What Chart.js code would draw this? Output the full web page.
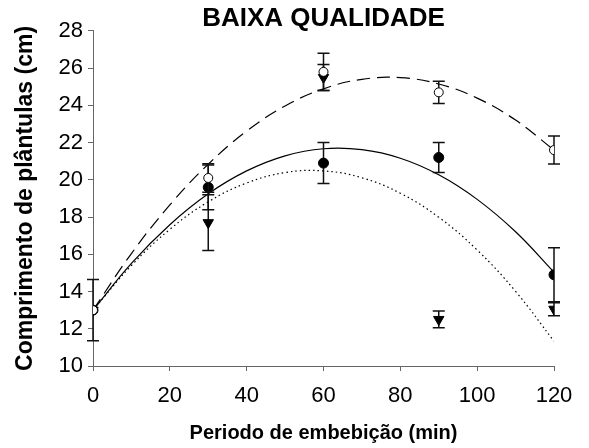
<!DOCTYPE html>
<html>
<head>
<meta charset="utf-8">
<script src="https://cdn.jsdelivr.net/npm/chart.js@4/dist/chart.umd.min.js"></script>
<style>
  html, body { margin: 0; padding: 0; background: #fff; }
</style>
</head>
<body>
<canvas id="myChart" width="589" height="448"></canvas>
<script>
// Sampling times (min)
const times = [0, 30, 60, 90, 120];

// Means and standard errors for each group
const openMean = [13.0, 20.1, 25.8, 24.7, 21.6];
const openErr = [0, 0.76, 1.0, 0.6, 0.75];
const filledMean = [13.0, 19.6, 20.9, 21.2, 14.9];
const filledErr = [1.65, 1.2, 1.1, 0.8, 1.45];
const triMean = [13.0, 17.7, 25.5, 12.5, 13.05];
const triErr = [0, 1.5, 0.7, 0.45, 0.35];

// Fitted regression curves, read every 10 min
const fitTimes = [0, 10, 20, 30, 40, 50, 60, 70, 80, 90, 100, 110, 120];
const fitDashed = [13.0, 16.04, 18.65, 20.84, 22.62, 23.97, 24.89, 25.40, 25.49, 25.15, 24.39, 23.21, 21.6];
const fitSolid = [13.0, 15.51, 17.59, 19.25, 20.48, 21.29, 21.67, 21.62, 21.16, 20.27, 18.95, 17.21, 15.04];
const fitDotted = [13.0, 15.40, 17.34, 18.82, 19.83, 20.39, 20.48, 20.11, 19.28, 17.99, 16.23, 14.01, 11.33];

const xTicks = [0, 20, 40, 60, 80, 100, 120];
const yTicks = [10, 12, 14, 16, 18, 20, 22, 24, 26, 28];

const FONT = 'Liberation Sans, Arial, sans-serif';
const toXY = (xs, ys) => xs.map((x, i) => ({ x: x, y: ys[i] }));

function curve(values, dash, width) {
    return {
        type: 'line',
        data: toXY(fitTimes, values),
        borderColor: '#000',
        borderWidth: width,
        borderDash: dash,
        pointRadius: 0,
        tension: 0.4,
        fill: false,
        order: 2,
    };
}

function points(values, errs, style, radius, fillColor, rotation) {
    return {
        type: 'line',
        data: toXY(times, values),
        errors: errs,
        showLine: false,
        pointStyle: style,
        pointRadius: radius,
        pointRotation: rotation,
        pointBackgroundColor: fillColor,
        pointBorderColor: '#000',
        pointBorderWidth: 1,
        order: 1,
    };
}

// Vertical error bars with caps, drawn just before each point set
const errorBars = {
    id: 'errorBars',
    beforeDatasetDraw(chart, args) {
        const ds = chart.data.datasets[args.index];
        if (!ds.errors) return;
        const { ctx, scales: { x, y } } = chart;
        ctx.save();
        ctx.strokeStyle = '#111';
        ctx.lineWidth = 1.5;
        ds.data.forEach((p, i) => {
            const e = ds.errors[i];
            if (!e) return;
            const px = x.getPixelForValue(p.x);
            const top = y.getPixelForValue(p.y + e);
            const bot = y.getPixelForValue(p.y - e);
            ctx.beginPath();
            ctx.moveTo(px, top);
            ctx.lineTo(px, bot);
            ctx.moveTo(px - 6, top);
            ctx.lineTo(px + 6, top);
            ctx.moveTo(px - 6, bot);
            ctx.lineTo(px + 6, bot);
            ctx.stroke();
        });
        ctx.restore();
    }
};

const ctx = document.getElementById('myChart').getContext('2d');
const myChart = new Chart(ctx, {
    type: 'line',
    data: {
        datasets: [
            curve(fitDashed, [13, 7], 1.2),
            curve(fitSolid, [], 1.2),
            curve(fitDotted, [1.5, 3], 1.2),
            points(openMean, openErr, 'circle', 4.5, '#fff', 0),
            points(filledMean, filledErr, 'circle', 5, '#000', 0),
            points(triMean, triErr, 'triangle', 6, '#000', 180),
        ],
    },
    options: {
        responsive: false,
        animation: false,
        layout: { padding: { left: 0, right: 35, top: 0, bottom: 0 } },
        plugins: {
            legend: { display: false },
            tooltip: { enabled: false },
            title: {
                display: true,
                text: 'BAIXA QUALIDADE',
                fullSize: false,
                color: '#000',
                font: { family: FONT, size: 26, weight: 'bold', lineHeight: 0.92 },
                padding: { top: 7, bottom: 0 },
            },
        },
        scales: {
            x: {
                type: 'linear',
                position: 'bottom',
                min: 0,
                max: 120,
                afterBuildTicks: (s) => { s.ticks = xTicks.map(v => ({ value: v })); },
                afterFit: (s) => { s.height = 82; },
                grid: { drawOnChartArea: false, drawTicks: true, tickLength: 5, color: '#666' },
                border: { display: true, color: '#666', width: 1 },
                ticks: { color: '#000', padding: 12, font: { family: FONT, size: 22 } },
                title: {
                    display: true,
                    text: 'Periodo de embebição (min)',
                    color: '#000',
                    font: { family: FONT, size: 20, weight: 'bold' },
                    padding: { top: 4, bottom: 3 },
                },
            },
            y: {
                min: 10,
                max: 28,
                afterBuildTicks: (s) => { s.ticks = yTicks.map(v => ({ value: v })); },
                afterFit: (s) => { s.width = 93; },
                grid: { drawOnChartArea: false, drawTicks: true, tickLength: 5, color: '#666' },
                border: { display: true, color: '#666', width: 1 },
                ticks: { color: '#000', padding: 5, font: { family: FONT, size: 22 } },
                title: {
                    display: true,
                    text: 'Comprimento de plântulas (cm)',
                    color: '#000',
                    font: { family: FONT, size: 23, weight: 'bold' },
                    padding: { top: 12, bottom: 4 },
                },
            },
        },
    },
    plugins: [errorBars],
});
</script>
</body>
</html>
